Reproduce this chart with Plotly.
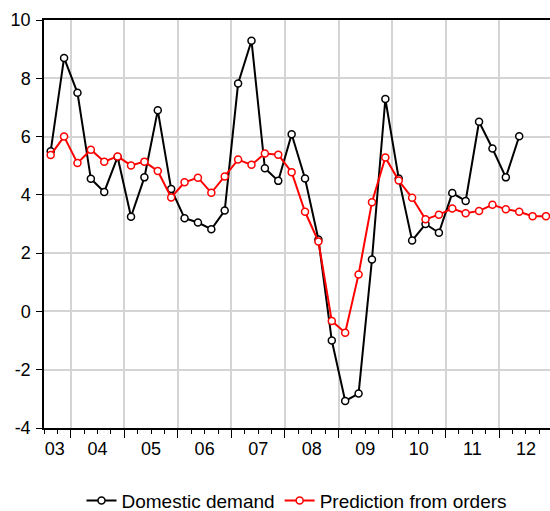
import plotly.graph_objects as go

# quarterly observations, 2003Q3 onwards
start_year = 2003
start_quarter = 3

domestic_demand = [
    5.5, 8.7, 7.5, 4.55, 4.1, 5.3, 3.25, 4.6, 6.9, 4.2,
    3.2, 3.05, 2.82, 3.46, 7.82, 9.29, 4.91, 4.48, 6.08, 4.56,
    2.47, -1.0, -3.07, -2.82, 1.78, 7.29, 4.56, 2.43, 3.0, 2.7,
    4.06, 3.79, 6.51, 5.59, 4.6, 6.01,
]
prediction_from_orders = [
    5.37, 6.0, 5.09, 5.55, 5.14, 5.32, 5.01, 5.14, 4.82, 3.91,
    4.43, 4.59, 4.07, 4.63, 5.21, 5.03, 5.42, 5.38, 4.78, 3.42,
    2.40, -0.33, -0.73, 1.27, 3.75, 5.28, 4.49, 3.9, 3.16, 3.32,
    3.53, 3.37, 3.45, 3.66, 3.51, 3.42, 3.27, 3.27,
]
year_labels = ["03", "04", "05", "06", "07", "08", "09", "10", "11", "12"]
y_ticks = [-4, -2, 0, 2, 4, 6, 8, 10]


def quarter_positions(n):
    # centre of each quarter, as a decimal year
    base = start_year + (start_quarter - 1) / 4
    return [base + (i + 0.5) / 4 for i in range(n)]


x_dd = quarter_positions(len(domestic_demand))
x_po = quarter_positions(len(prediction_from_orders))

marker_style = dict(symbol="circle", size=7, line=dict(width=1.5))

fig = go.Figure()
fig.add_trace(
    go.Scatter(
        x=x_dd,
        y=domestic_demand,
        name="Domestic demand",
        mode="lines+markers",
        line=dict(color="black", width=2),
        marker=dict(color="white", **marker_style),
    )
)
fig.add_trace(
    go.Scatter(
        x=x_po,
        y=prediction_from_orders,
        name="Prediction from orders",
        mode="lines+markers",
        line=dict(color="#ff0000", width=2),
        marker=dict(color="white", **marker_style),
    )
)
for tr in fig.data:
    tr.marker.line.color = tr.line.color

# plot runs up to the right edge of the window, as in the source chart
x_range = [2003.5, 2012.95]
year_bounds = list(range(2004, 2013))
label_pos = [2003.7] + [y + 0.5 for y in range(2004, 2013)]

fig.update_layout(
    width=550,
    height=511,
    margin=dict(l=44, r=0, t=20, b=83, autoexpand=False),
    plot_bgcolor="white",
    paper_bgcolor="white",
    font=dict(family="Liberation Sans, Arial, sans-serif", size=18, color="black"),
    showlegend=True,
    legend=dict(
        orientation="h",
        x=0.5,
        xanchor="center",
        y=-0.178,
        yanchor="middle",
        font=dict(size=19),
        itemwidth=30,
    ),
    xaxis=dict(
        range=x_range,
        automargin=False,
        tickvals=year_bounds,
        ticktext=["" for _ in year_bounds],
        ticks="outside",
        ticklen=8,
        tickwidth=1,
        tickcolor="black",
        showgrid=True,
        gridcolor="#d4d4d4",
        gridwidth=1.5,
        zeroline=False,
        showline=True,
        linecolor="black",
        linewidth=1.5,
        mirror=True,
        minor=dict(
            tick0=2003.5,
            dtick=0.25,
            ticks="outside",
            ticklen=4,
            tickcolor="black",
            showgrid=False,
        ),
    ),
    xaxis2=dict(
        range=x_range,
        automargin=False,
        overlaying="x",
        anchor="y",
        side="bottom",
        tickvals=label_pos,
        ticktext=year_labels,
        ticks="",
        showgrid=False,
        zeroline=False,
        showline=False,
        ticklabelstandoff=8,
    ),
    yaxis=dict(
        range=[-4, 10],
        automargin=False,
        tickvals=y_ticks,
        ticktext=[str(v) for v in y_ticks],
        ticks="outside",
        ticklen=6,
        tickcolor="black",
        showgrid=True,
        gridcolor="#d4d4d4",
        gridwidth=1.5,
        zeroline=False,
        showline=True,
        linecolor="black",
        linewidth=1.5,
        ticklabelstandoff=2,
    ),
)
# dummy trace so the label axis is drawn
fig.add_trace(
    go.Scatter(x=[x_range[0]], y=[None], xaxis="x2", showlegend=False, hoverinfo="skip")
)

# drop the page's default body margin and scrollbars so the figure fills the window
page_js = "document.body.style.margin='0';document.body.style.overflow='hidden';"
fig.write_html(
    "out.html", post_script=page_js, config={"displayModeBar": False}
)
